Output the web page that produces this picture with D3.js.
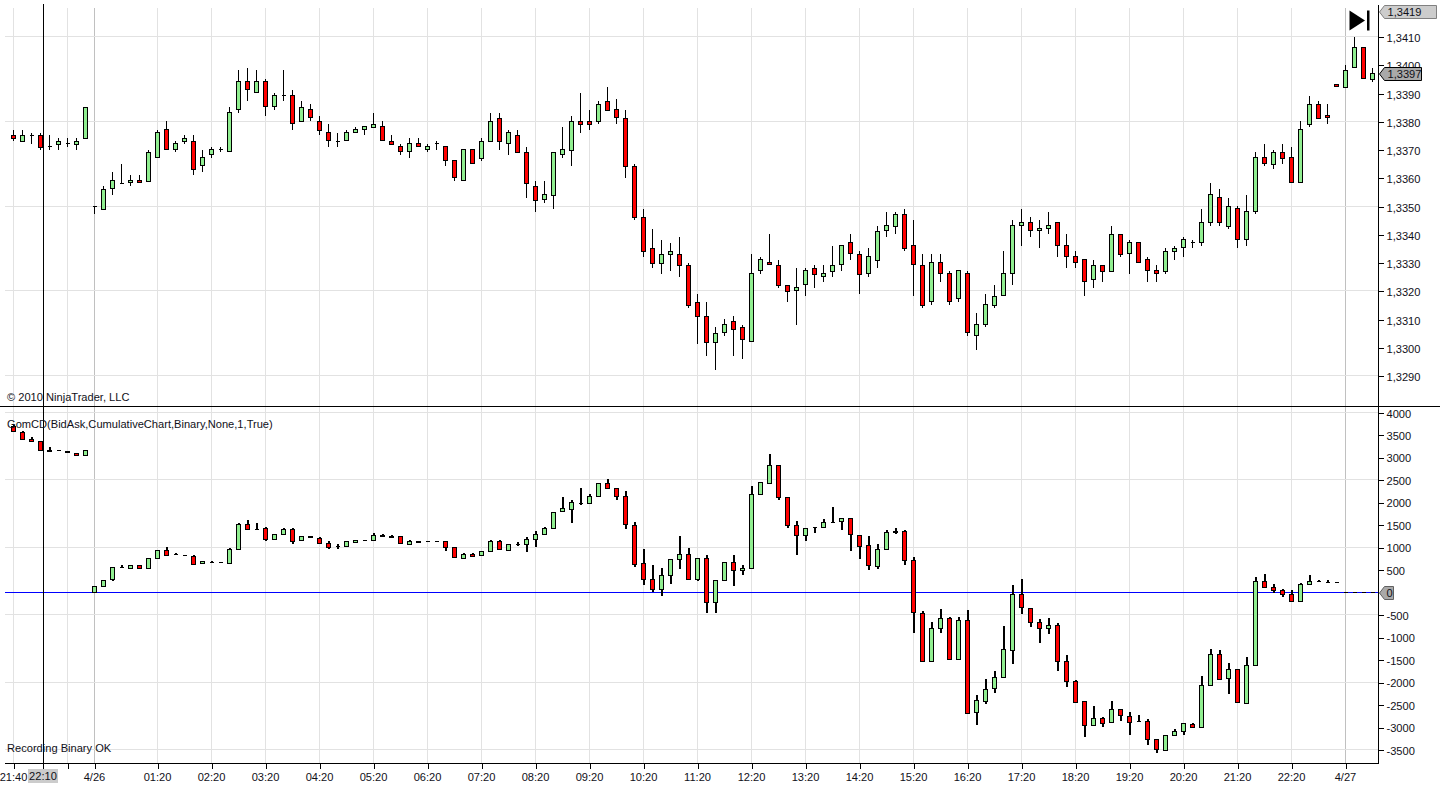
<!DOCTYPE html>
<html><head><meta charset="utf-8">
<script src="https://cdn.jsdelivr.net/npm/d3@7/dist/d3.min.js"></script>
<style>html,body{margin:0;padding:0;background:#fff;overflow:hidden}svg{display:block}text{font-family:"Liberation Sans",Arial,sans-serif;font-size:11.1px;fill:#101018}</style>
</head><body><svg id="c" width="1440" height="789"></svg>
<script>
const priceOpen=[1.3375,1.3373,1.3375,1.3375,1.3371,1.3372,1.3372,1.3372,1.3374,1.3350,
1.3349,1.3356,1.3358,1.3358,1.3359,1.3359,1.3367,1.3377,1.3370,1.3373,
1.3373,1.3364,1.3368,1.3370,1.3369,1.3384,1.3394,1.3390,1.3394,1.3385,
1.3389,1.3389,1.3380,1.3384,1.3380,1.3376,1.3373,1.3373,1.3376,1.3377,
1.3378,1.3378,1.3373,1.3371,1.3369,1.3372,1.3370,1.3372,1.3371,1.3366,
1.3359,1.3370,1.3367,1.3373,1.3381,1.3372,1.3375,1.3369,1.3357,1.3352,
1.3354,1.3368,1.3370,1.3380,1.3380,1.3380,1.3387,1.3384,1.3381,1.3364,
1.3346,1.3335,1.3330,1.3333,1.3333,1.3329,1.3316,1.3311,1.3302,1.3305,
1.3309,1.3307,1.3302,1.3327,1.3330,1.3329,1.3322,1.3320,1.3322,1.3328,
1.3325,1.3327,1.3329,1.3337,1.3333,1.3326,1.3331,1.3341,1.3343,1.3347,
1.3336,1.3329,1.3316,1.3330,1.3326,1.3317,1.3326,1.3304,1.3308,1.3315,
1.3318,1.3326,1.3343,1.3344,1.3341,1.3342,1.3344,1.3336,1.3332,1.3331,
1.3324,1.3329,1.3327,1.3340,1.3333,1.3337,1.3331,1.3327,1.3327,1.3334,
1.3335,1.3337,1.3337,1.3344,1.3353,1.3343,1.3349,1.3338,1.3348,1.3367,
1.3365,1.3369,1.3367,1.3358,1.3379,1.3386,1.3382,1.3393,1.3392,1.3399,
1.3406,1.3395];
const priceClose=[1.3374,1.3375,1.3375,1.3371,1.3371,1.3373,1.3372,1.3373,1.3385,1.3350,
1.3356,1.3359,1.3358,1.3359,1.3358,1.3369,1.3376,1.3370,1.3372,1.3374,
1.3363,1.3367,1.3370,1.3370,1.3383,1.3394,1.3391,1.3394,1.3385,1.3389,
1.3389,1.3379,1.3385,1.3381,1.3377,1.3373,1.3373,1.3376,1.3377,1.3378,
1.3379,1.3373,1.3372,1.3369,1.3372,1.3371,1.3371,1.3372,1.3366,1.3360,
1.3370,1.3365,1.3373,1.3380,1.3373,1.3376,1.3369,1.3358,1.3352,1.3354,
1.3369,1.3370,1.3380,1.3379,1.3379,1.3386,1.3384,1.3381,1.3364,1.3346,
1.3334,1.3330,1.3333,1.3334,1.3329,1.3315,1.3311,1.3302,1.3305,1.3308,
1.3306,1.3303,1.3326,1.3331,1.3329,1.3322,1.3320,1.3321,1.3327,1.3326,
1.3326,1.3329,1.3336,1.3333,1.3326,1.3332,1.3341,1.3343,1.3347,1.3335,
1.3329,1.3315,1.3330,1.3326,1.3316,1.3327,1.3305,1.3308,1.3315,1.3318,
1.3326,1.3343,1.3344,1.3341,1.3342,1.3343,1.3336,1.3332,1.3330,1.3323,
1.3329,1.3327,1.3340,1.3333,1.3337,1.3330,1.3327,1.3326,1.3334,1.3335,
1.3338,1.3337,1.3344,1.3354,1.3344,1.3350,1.3338,1.3348,1.3367,1.3365,
1.3369,1.3367,1.3358,1.3377,1.3386,1.3381,1.3381,1.3392,1.3398,1.3406,
1.3395,1.3397];
const priceHigh=[1.3377,1.3377,1.3376,1.3376,1.3375,1.3374,1.3374,1.3374,1.3385,1.3350,
1.3357,1.3362,1.3365,1.3361,1.3361,1.3370,1.3377,1.3380,1.3373,1.3375,
1.3375,1.3370,1.3371,1.3371,1.3385,1.3398,1.3399,1.3398,1.3395,1.3390,
1.3398,1.3391,1.3387,1.3386,1.3382,1.3379,1.3376,1.3377,1.3378,1.3378,
1.3383,1.3380,1.3375,1.3372,1.3374,1.3374,1.3372,1.3373,1.3371,1.3366,
1.3370,1.3370,1.3374,1.3383,1.3383,1.3377,1.3377,1.3371,1.3359,1.3359,
1.3369,1.3378,1.3382,1.3390,1.3384,1.3387,1.3392,1.3388,1.3384,1.3365,
1.3349,1.3342,1.3338,1.3337,1.3339,1.3330,1.3319,1.3316,1.3307,1.3310,
1.3311,1.3308,1.3333,1.3332,1.3340,1.3331,1.3322,1.3328,1.3328,1.3329,
1.3329,1.3336,1.3336,1.3340,1.3334,1.3335,1.3343,1.3348,1.3348,1.3349,
1.3345,1.3333,1.3333,1.3333,1.3327,1.3327,1.3327,1.3312,1.3319,1.3322,
1.3334,1.3345,1.3349,1.3346,1.3345,1.3348,1.3344,1.3340,1.3334,1.3331,
1.3331,1.3329,1.3343,1.3340,1.3338,1.3337,1.3332,1.3329,1.3335,1.3336,
1.3339,1.3338,1.3349,1.3358,1.3356,1.3353,1.3350,1.3354,1.3369,1.3372,
1.3370,1.3372,1.3371,1.3380,1.3389,1.3387,1.3386,1.3393,1.3400,1.3410,
1.3406,1.3399];
const priceLow=[1.3373,1.3373,1.3372,1.3370,1.3370,1.3370,1.3371,1.3370,1.3374,1.3347,
1.3349,1.3354,1.3358,1.3357,1.3358,1.3359,1.3367,1.3370,1.3369,1.3372,
1.3361,1.3362,1.3367,1.3369,1.3369,1.3383,1.3387,1.3390,1.3382,1.3384,
1.3387,1.3377,1.3380,1.3380,1.3375,1.3371,1.3371,1.3373,1.3376,1.3375,
1.3378,1.3373,1.3372,1.3368,1.3367,1.3371,1.3369,1.3370,1.3364,1.3359,
1.3359,1.3365,1.3366,1.3373,1.3370,1.3368,1.3369,1.3353,1.3348,1.3351,
1.3349,1.3367,1.3364,1.3376,1.3377,1.3379,1.3384,1.3379,1.3360,1.3345,
1.3332,1.3328,1.3326,1.3327,1.3325,1.3314,1.3301,1.3297,1.3292,1.3304,
1.3297,1.3296,1.3302,1.3326,1.3329,1.3321,1.3316,1.3308,1.3318,1.3321,
1.3323,1.3325,1.3327,1.3331,1.3319,1.3325,1.3328,1.3339,1.3340,1.3334,
1.3318,1.3314,1.3315,1.3323,1.3315,1.3316,1.3304,1.3299,1.3307,1.3314,
1.3318,1.3322,1.3336,1.3339,1.3335,1.3340,1.3332,1.3328,1.3328,1.3318,
1.3321,1.3323,1.3327,1.3332,1.3326,1.3330,1.3323,1.3323,1.3326,1.3331,
1.3332,1.3335,1.3336,1.3343,1.3343,1.3342,1.3335,1.3336,1.3347,1.3364,
1.3363,1.3365,1.3358,1.3358,1.3378,1.3381,1.3379,1.3392,1.3392,1.3399,
1.3395,1.3394];
const deltaOpen=[3680,3560,3400,3360,3160,3150,3130,3090,3050,0,
130,270,550,550,600,550,760,930,820,810,
800,620,670,660,650,960,1510,1400,1420,1180,
1290,1400,1130,1240,1200,1090,1010,1000,1120,1160,
1160,1270,1250,1230,1070,1130,1120,1120,1120,990,
770,850,810,900,1120,940,1070,1070,1180,1290,
1420,1780,1860,1980,1970,2130,2410,2300,2130,1490,
630,280,60,370,720,830,280,740,-250,260,
660,480,520,2170,2440,2830,2110,1490,1270,1440,
1450,1550,1560,1640,1270,1030,590,960,1360,1350,
700,-470,-1520,-800,-580,-1480,-620,-2690,-2420,-2160,
-1900,-1280,-60,-360,-670,-790,-735,-1540,-1980,-2430,
-2960,-2810,-2920,-2610,-2760,-2880,-2880,-3280,-3520,-3190,
-3100,-2940,-2990,-2070,-1380,-1920,-1720,-2470,-1630,245,
110,45,-45,-200,180,230,220,220,0,0,
0,0];
const deltaClose=[3560,3400,3360,3160,3150,3140,3090,3050,3160,130,
270,540,550,600,550,760,930,820,830,800,
620,680,670,660,960,1510,1400,1400,1180,1290,
1400,1130,1240,1200,1090,1010,1010,1120,1160,1160,
1270,1250,1230,1070,1140,1120,1120,1120,990,770,
850,810,900,1120,940,1070,1070,1180,1290,1420,
1780,1860,2000,1980,2130,2410,2300,2130,1490,630,
280,60,370,720,830,280,740,-250,260,660,
480,520,2170,2440,2830,2110,1490,1270,1420,1440,
1560,1550,1640,1270,1030,590,960,1340,1350,700,
-470,-1520,-800,-580,-1480,-620,-2690,-2420,-2160,-1900,
-1280,-50,-360,-670,-790,-735,-1540,-1980,-2440,-2960,
-2810,-2920,-2610,-2760,-2880,-2880,-3280,-3520,-3180,-3100,
-2930,-2990,-2070,-1380,-1920,-1720,-2470,-1630,245,110,
45,-45,-200,180,245,230,220,220,0,0,
0,0];
const deltaHigh=[3720,3590,3450,3360,3230,3150,3130,3090,3160,130,
270,560,610,600,600,760,930,1000,870,830,
820,700,700,670,980,1530,1600,1550,1460,1290,
1440,1420,1260,1240,1220,1130,1070,1140,1160,1160,
1310,1290,1270,1230,1170,1130,1120,1150,1120,990,
880,880,900,1160,1160,1070,1120,1230,1360,1450,
1790,2130,2060,2330,2190,2430,2520,2320,2260,1560,
970,610,550,720,1250,990,740,830,280,680,
830,610,2370,2440,3070,2830,2110,1580,1420,1440,
1620,1890,1640,1640,1270,1250,1070,1380,1420,1380,
790,-420,-660,-380,-560,-550,-400,-2290,-1920,-1760,
-750,170,290,-340,-600,-580,-690,-1400,-1960,-2430,
-2530,-2780,-2430,-2610,-2670,-2740,-2830,-3280,-3170,-3050,
-2910,-2910,-1870,-1270,-1290,-1580,-1720,-1450,335,400,
180,70,45,200,380,270,270,220,0,0,
0,0];
const deltaLow=[3560,3400,3360,3160,3150,3140,3090,3050,3050,0,
130,240,550,550,550,550,760,820,820,800,
620,620,670,660,650,960,1400,1400,1150,1180,
1290,1070,1130,1200,1090,970,970,1000,1120,1160,
1160,1250,1230,1070,1070,1120,1120,1120,910,770,
770,810,810,900,940,940,1040,890,1000,1290,
1400,1780,1530,1940,1970,2130,2300,2050,1400,560,
170,0,-90,180,520,280,240,-470,-470,260,
130,390,520,2170,2410,2060,1430,830,1150,1320,
1450,1550,1380,920,740,500,520,960,1290,610,
-900,-1520,-1520,-910,-1480,-1480,-2690,-2950,-2490,-2240,
-1900,-1590,-490,-770,-1120,-920,-1750,-2100,-2460,-3220,
-2960,-2990,-2920,-2870,-3170,-2880,-3390,-3570,-3520,-3190,
-3170,-2990,-2990,-2070,-1920,-2260,-2470,-2470,-1630,110,
-10,-110,-200,-200,180,230,220,220,0,0,
0,0];
const timeTickBars=[0,6,9,16,22,28,34,40,46,52,58,64,70,76,82,88,94,100,106,112,118,124,130,136,142,148];
const timeTickLabels=["21:40","","4/26","01:20","02:20","03:20","04:20","05:20","06:20","07:20","08:20","09:20","10:20","11:20","12:20","13:20","14:20","15:20","16:20","17:20","18:20","19:20","20:20","21:20","22:20","4/27"];
const dayBreakBars=[9,148];
const priceTicks=[1.3290,1.3300,1.3310,1.3320,1.3330,1.3340,1.3350,1.3360,1.3370,1.3380,1.3390,1.3400,1.3410];
const priceGrid=[1.3290,1.3320,1.3350,1.3380,1.3410];
const deltaTicks=[-3500,-3000,-2500,-2000,-1500,-1000,-500,500,1000,1500,2000,2500,3000,3500,4000];
const deltaGrid=[-3500,-2000,-500,1000,2500,4000];
const priceHighMark=1.3419, priceLast=1.3397;
const crosshairBar=3.33, crosshairLabel="22:10";

const svg=d3.select("#c");
const left=5,right=1378,axisY=763.5,topY=8,sepY=406.5;
const x=d3.scaleLinear().domain([0,151]).range([13.5,1372.5]);
const yP=d3.scaleLinear().domain([1.3290,1.3410]).range([375.5,36.5]);
const yD=d3.scaleLinear().domain([-3500,4000]).range([749.5,412.5]);
const px=v=>Math.round(v-0.5)+0.5;
const crisp=g=>g.attr("shape-rendering","crispEdges");

// grids
const grid=crisp(svg.append("g"));
grid.selectAll(".v").data(timeTickBars).join("line")
 .attr("x1",d=>px(x(d))).attr("x2",d=>px(x(d))).attr("y1",topY).attr("y2",axisY)
 .attr("stroke",d=>dayBreakBars.includes(d)?"#c0c0c0":"#e2e2e2");
grid.selectAll(".hp").data(priceGrid).join("line").attr("class","hp")
 .attr("x1",left).attr("x2",right).attr("y1",d=>px(yP(d))).attr("y2",d=>px(yP(d))).attr("stroke","#e2e2e2");
grid.selectAll(".hd").data(deltaGrid).join("line").attr("class","hd")
 .attr("x1",left).attr("x2",right).attr("y1",d=>px(yD(d))).attr("y2",d=>px(yD(d))).attr("stroke","#e2e2e2");

function candles(o,h,l,c,y,wickW){
  const g=crisp(svg.append("g"));
  const idx=d3.range(o.length);
  g.selectAll("line").data(idx).join("line")
   .attr("x1",i=>wickW===2?px(x(i))+0.5:px(x(i))).attr("x2",i=>wickW===2?px(x(i))+0.5:px(x(i)))
   .attr("y1",i=>Math.round(y(h[i]))).attr("y2",i=>Math.round(y(l[i])))
   .attr("stroke","#000").attr("stroke-width",wickW);
  g.selectAll("path").data(idx).join("path")
   .attr("d",i=>{
     const x0=px(x(i))-2, y0=px(Math.min(y(o[i]),y(c[i])));
     const ht=Math.abs(Math.round(y(o[i]))-Math.round(y(c[i])));
     return `M${x0} ${y0}h4v${ht}h-4Z`;
   })
   .attr("fill",i=>c[i]<o[i]?"#ff0000":"#90ee90").attr("stroke","#000");
}
// zero line
crisp(svg.append("line")).attr("x1",left).attr("x2",right).attr("y1",px(yD(0))).attr("y2",px(yD(0))).attr("stroke","#0000ff");
candles(priceOpen,priceHigh,priceLow,priceClose,yP,1);
candles(deltaOpen,deltaHigh,deltaLow,deltaClose,yD,2);

// separators and axes
const fmtP=d=>d3.format(".4f")(d).replace(".",",");
const ax=svg.append("g").attr("transform",`translate(${right+0.5},0)`).call(d3.axisRight(yP).tickValues(priceTicks).tickFormat(fmtP).tickSize(5).tickPadding(3));
const ax2=svg.append("g").attr("transform",`translate(${right+0.5},0)`).call(d3.axisRight(yD).tickValues(deltaTicks).tickFormat(d=>String(d)).tickSize(5).tickPadding(3));
const ax3=svg.append("g").attr("transform",`translate(0,${axisY})`).call(d3.axisBottom(x).tickValues(timeTickBars).tickFormat((d,i)=>timeTickLabels[i]).tickSize(5).tickPadding(5));
[ax,ax2,ax3].forEach(a=>{a.select(".domain").remove();a.attr("font-family",null).attr("font-size",null);a.selectAll("line").attr("stroke","#000").attr("shape-rendering","crispEdges");});
ax.selectAll(".tick line").attr("y1",0.5).attr("y2",0.5);
ax2.selectAll(".tick line").attr("y1",0.5).attr("y2",0.5);
ax.selectAll(".tick text").attr("dy","1.1em");
ax2.selectAll(".tick text").attr("dy","1.05em");
ax3.selectAll(".tick text").attr("dx","-0.5");
ax.selectAll(".tick text").attr("dy",null).attr("y",5);
ax2.selectAll(".tick text").attr("dy",null).attr("y",4.5);
const frame=crisp(svg.append("g"));
frame.append("line").attr("x1",0).attr("x2",1440).attr("y1",sepY).attr("y2",sepY).attr("stroke","#000");
frame.append("line").attr("x1",left).attr("x2",right+1).attr("y1",axisY).attr("y2",axisY).attr("stroke","#000");
frame.append("line").attr("x1",right+0.5).attr("x2",right+0.5).attr("y1",5).attr("y2",axisY).attr("stroke","#000");

// crosshair
const cx=px(x(crosshairBar));
crisp(svg.append("line")).attr("x1",cx).attr("x2",cx).attr("y1",4).attr("y2",769).attr("stroke","#000");
svg.append("rect").attr("x",cx-15.5).attr("y",769).attr("width",30).attr("height",14).attr("fill","#cccccc");
svg.append("text").attr("x",cx-0.5).attr("y",780).attr("text-anchor","middle").text(crosshairLabel);

// pane labels
svg.append("text").attr("x",7).attr("y",401).text("© 2010 NinjaTrader, LLC");
svg.append("text").attr("x",7).attr("y",428).text("GomCD(BidAsk,CumulativeChart,Binary,None,1,True)");
svg.append("text").attr("x",7).attr("y",752).text("Recording Binary OK");

// value callouts
function callout(yc,rightX,label,fill,stroke,h){
  const t=Math.round(yc-h/2)+0.5,b=t+h,m=(t+b)/2,lx=1379.5;
  svg.append("polygon").attr("points",`${lx},${m} ${lx+5},${t} ${rightX},${t} ${rightX},${b} ${lx+5},${b}`)
   .attr("fill",fill).attr("stroke",stroke);
  svg.append("text").attr("x",lx+(label==="0"?7:8)).attr("y",m+4).text(label);
}
callout(yP(priceHighMark),1436.5,fmtP(priceHighMark),"#cccccc","#808080",13);
callout(yP(priceLast),1421.5,fmtP(priceLast),"#a9a9a9","#000000",13);
callout(yD(0),1393.5,"0","#a9a9a9","#606060",13);

// go-to-last-bar icon
svg.append("path").attr("d","M1349.5 10.5L1365 20.5L1349.5 30.5Z").attr("fill","#000");
svg.append("rect").attr("x",1367).attr("y",10.5).attr("width",2.5).attr("height",20).attr("fill","#000");
</script></body></html>
